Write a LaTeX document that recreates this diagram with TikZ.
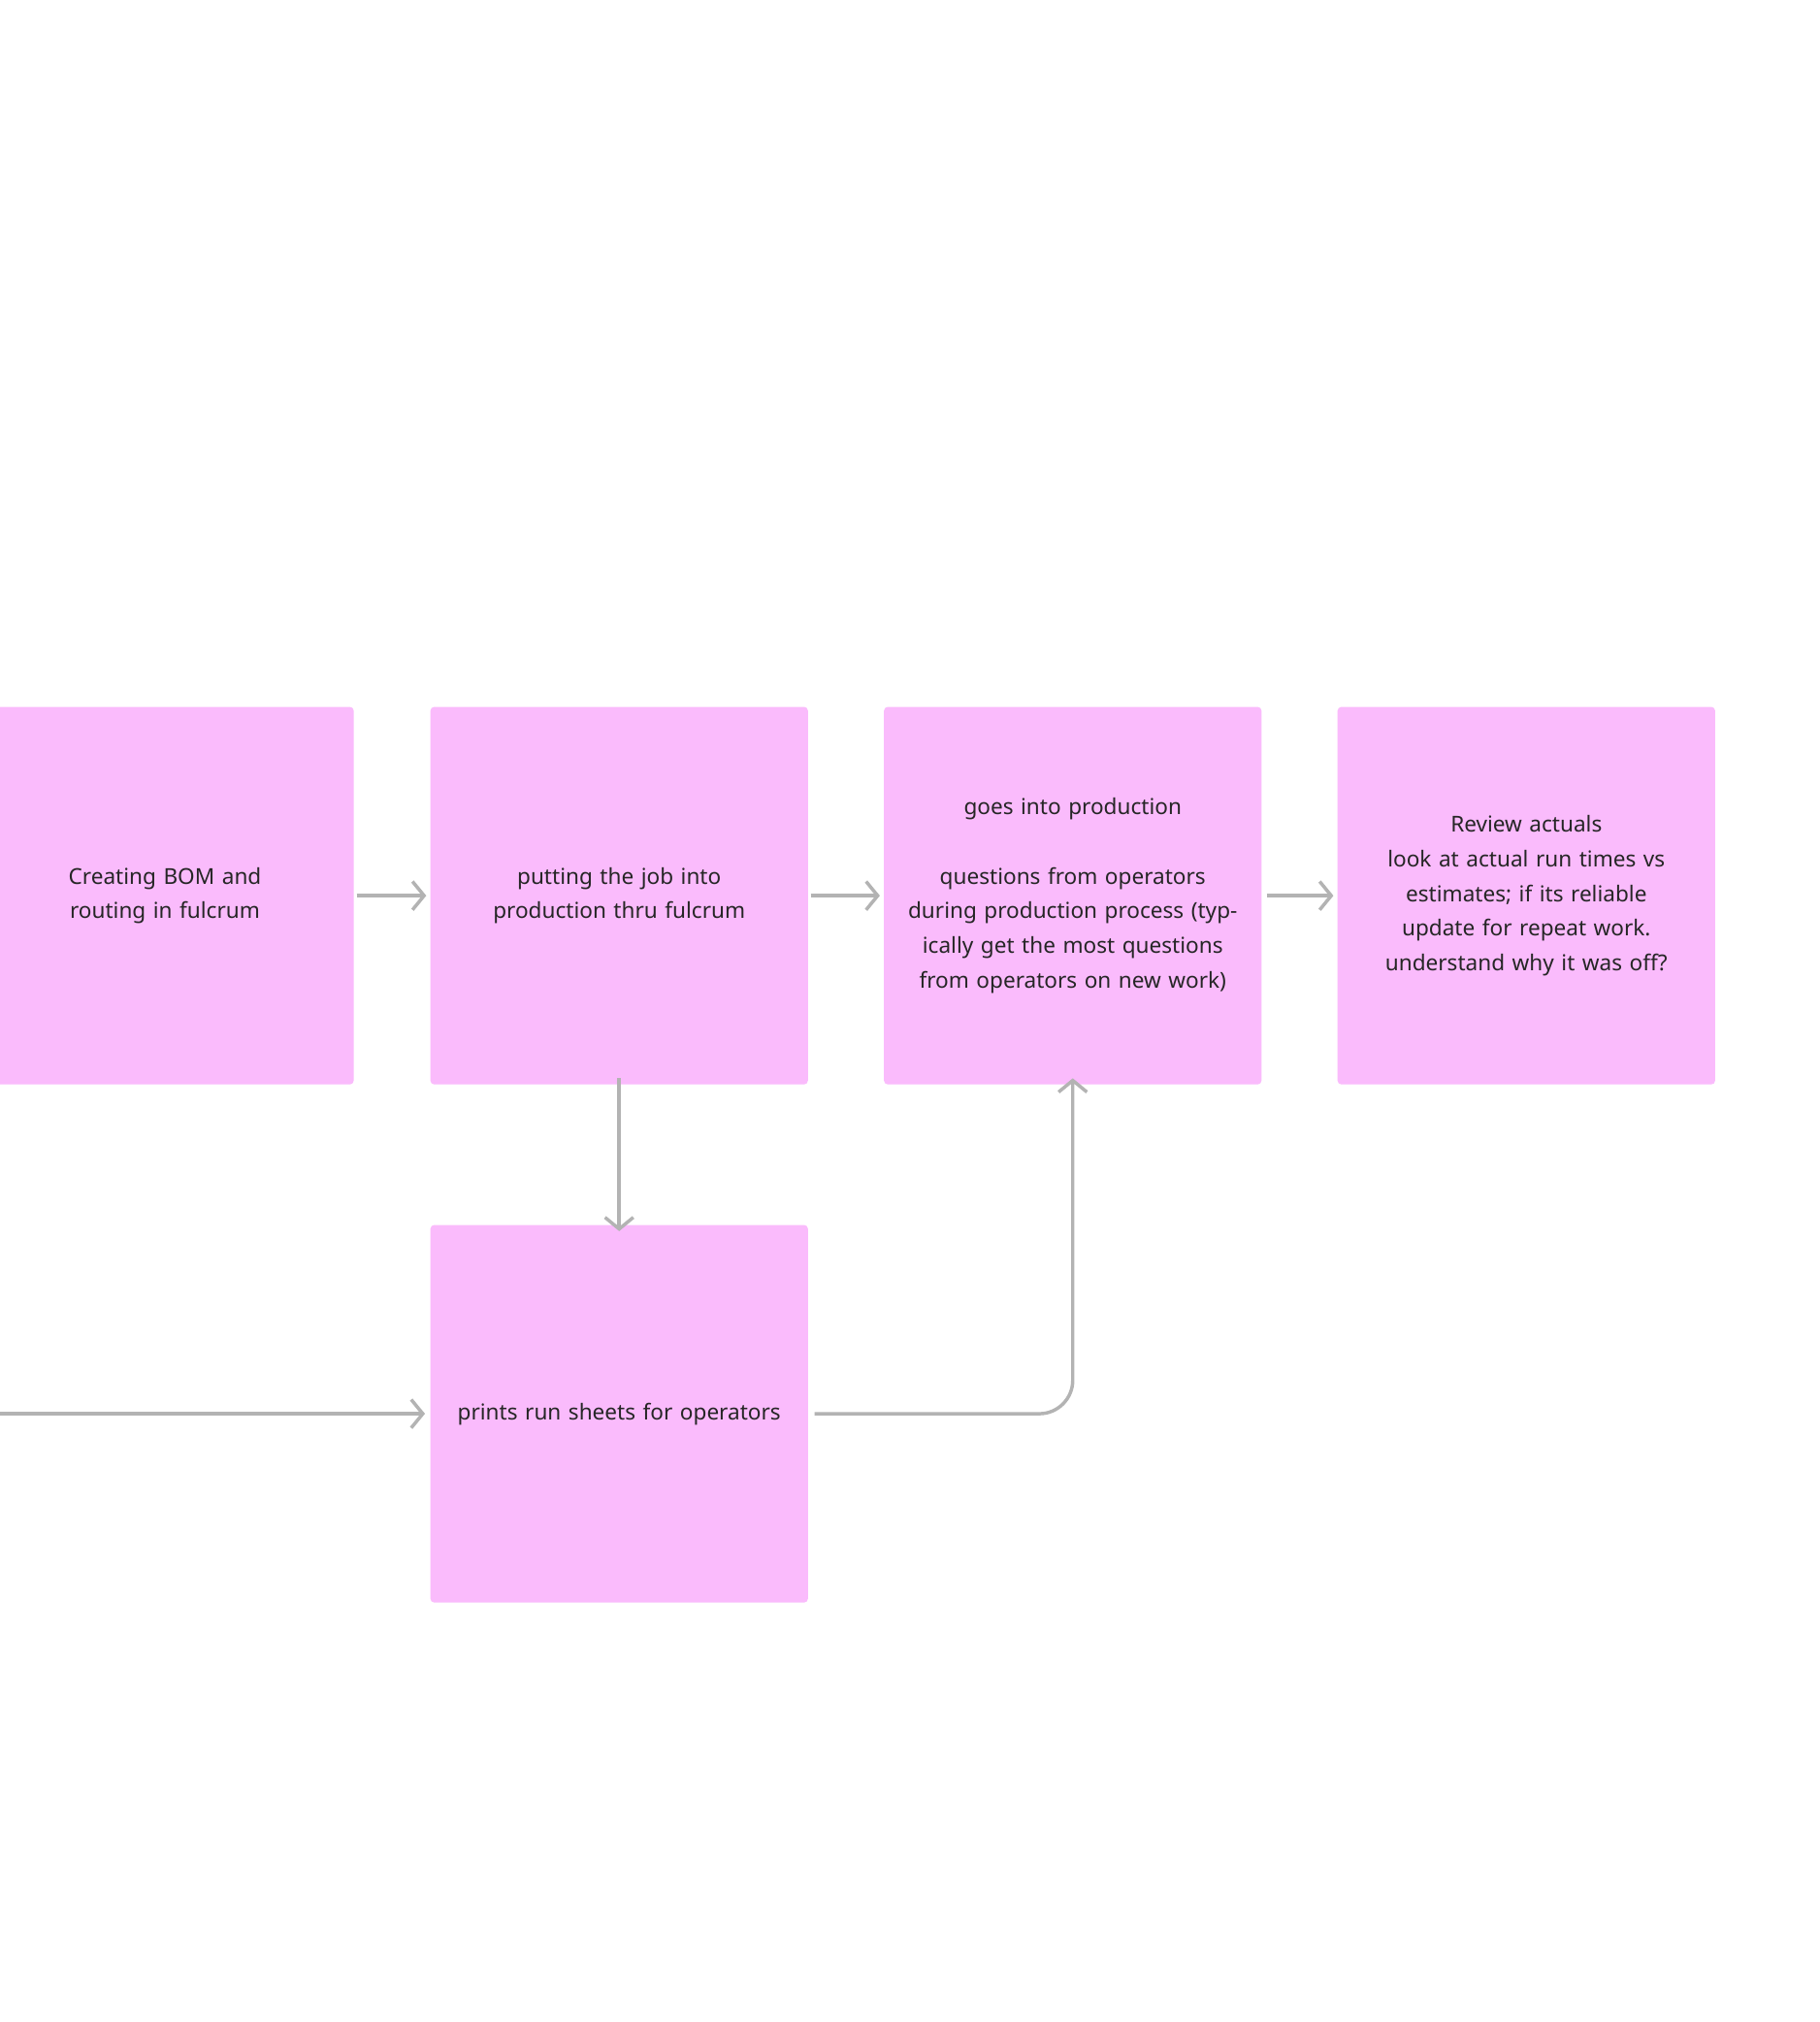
\documentclass[tikz,border=0pt]{standalone}
\usepackage{fontspec}
\setmainfont{Noto Sans}
\usetikzlibrary{arrows.meta}
\begin{document}
\begin{tikzpicture}[x=1pt,y=-1pt,
  box/.style={fill=pink1,rounded corners=3,minimum width=293,minimum height=293,text width=262,align=center,inner sep=0,font=\fontsize{17}{27}\selectfont,text=black!85},
  conn/.style={draw=gray1,line width=2.6,-{Straight Barb[length=9,width=22,line width=2.6]}}]
\definecolor{pink1}{HTML}{FABBFC}
\definecolor{gray1}{HTML}{B3B3B3}
\useasboundingbox (0,0) rectangle (1412,1569);
\fill[white] (0,0) rectangle (1412,1569);
\node[box] (b1) at (128,695) {Creating BOM and routing in fulcrum};
\node[box] (b2) at (480.5,695) {putting the job into\\production thru fulcrum};
\node[box] (b3) at (832.5,695) {goes into production\\[27pt]questions from operators during production process (typically get the most questions from operators on new work)\\[27pt]};
\node[box] (b4) at (1184.5,695) {Review actuals\\look at actual run times vs estimates; if its reliable update for repeat work.\\understand why it was off?\\[27pt]};
\node[box] (b5) at (480.5,1097) {prints run sheets for operators};
\coordinate (L) at (-5,1097);
\draw[conn] ([xshift=2]b1.east) -- ([xshift=-3]b2.west);
\draw[conn] ([xshift=2]b2.east) -- ([xshift=-3]b3.west);
\draw[conn] ([xshift=4]b3.east) -- ([xshift=-3]b4.west);
\draw[conn] ([yshift=5]b2.south) -- ([yshift=-5]b5.north);
\draw[conn] (L) -- ([xshift=-4]b5.west);
\draw[conn,rounded corners=26] ([xshift=5]b5.east) -| ([yshift=5]b3.south);
\end{tikzpicture}
\end{document}
